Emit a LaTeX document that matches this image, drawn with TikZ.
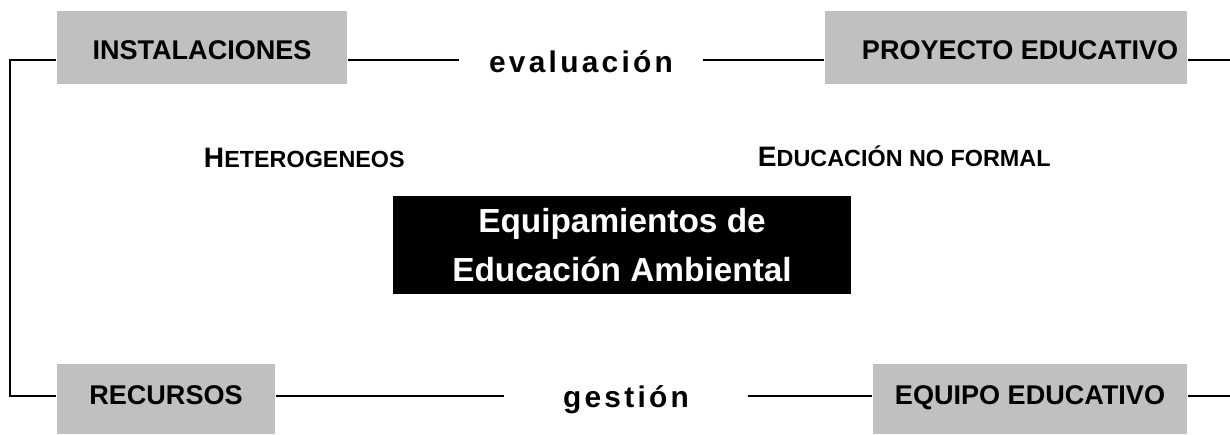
\documentclass[tikz,border=0pt]{standalone}
\usepackage{fontspec}
\setmainfont{Liberation Sans}
\usetikzlibrary{positioning,calc}
\definecolor{colorbox}{RGB}{192,192,192}

\begin{document}
\begin{tikzpicture}[
    x=0.02cm, y=-0.02cm,
    line width=1.1pt,
    base/.style={font={\fontsize{15.4}{18}\selectfont\bfseries},fill=colorbox,inner sep=0pt,align=center,rectangle,text depth=0pt},
    basecentre/.style={font={\fontsize{19}{28}\selectfont\bfseries},fill=black,text=white,inner sep=0pt,align=center,rectangle},
    basespaced/.style={font={\fontsize{17}{20}\selectfont\bfseries\addfontfeatures{LetterSpace=11}},inner sep=0pt,anchor=base},
    basesmall/.style={font={\fontsize{13.3}{16}\selectfont\bfseries},inner sep=0pt,anchor=base west},
]
    \useasboundingbox (0,0) rectangle (1230,434);

    \node[base,text height=14.2pt,minimum width=5.8cm,minimum height=1.46cm]  (instal)  at (202,47.5)  {INSTALACIONES};
    \node[base,text height=14.2pt,minimum width=7.24cm,minimum height=1.46cm] (proyecto) at (1006,47.5) {\hspace*{16pt}PROYECTO EDUCATIVO};
    \node[base,text height=6.5pt,minimum width=4.36cm,minimum height=1.4cm]  (recursos) at (166,399)  {RECURSOS};
    \node[base,text height=6.5pt,minimum width=6.28cm,minimum height=1.4cm]  (equipo)   at (1030,399) {EQUIPO EDUCATIVO};

    \node[basespaced,minimum width=4.84cm] (evaluacion) at (581,72)  {evaluación};
    \node[basespaced,minimum width=4.84cm] (gestion)    at (626,407) {gestión};

    \node[basesmall] (hetero) at (203,167) {{\fontsize{16}{18}\selectfont H}ETEROGENEOS};
    \node[basesmall] (noformal) at (757,166) {{\fontsize{16}{18}\selectfont E}DUCACIÓN NO FORMAL};

    \node[basecentre,minimum width=9.16cm,minimum height=1.96cm] (equipamientos) at (622,245) {Equipamientos de\\Educación Ambiental};

    \coordinate (topleft)  at (10,60);
    \coordinate (botleft)  at (10,396);
    \coordinate (topright) at (1230,60);
    \coordinate (botright) at (1230,396);

    \draw (instal.west |- topleft) -- (topleft) -- (botleft) -- (recursos.west |- botleft);

    \draw (instal.east |- topleft) -- (evaluacion.west |- topleft);
    \draw (evaluacion.east |- topleft) -- (proyecto.west |- topleft);
    \draw (proyecto.east |- topleft) -- (topright);

    \draw (recursos.east |- botleft) -- (gestion.west |- botleft);
    \draw (gestion.east |- botleft) -- (equipo.west |- botleft);
    \draw (equipo.east |- botleft) -- (botright);

\end{tikzpicture}
\end{document}
